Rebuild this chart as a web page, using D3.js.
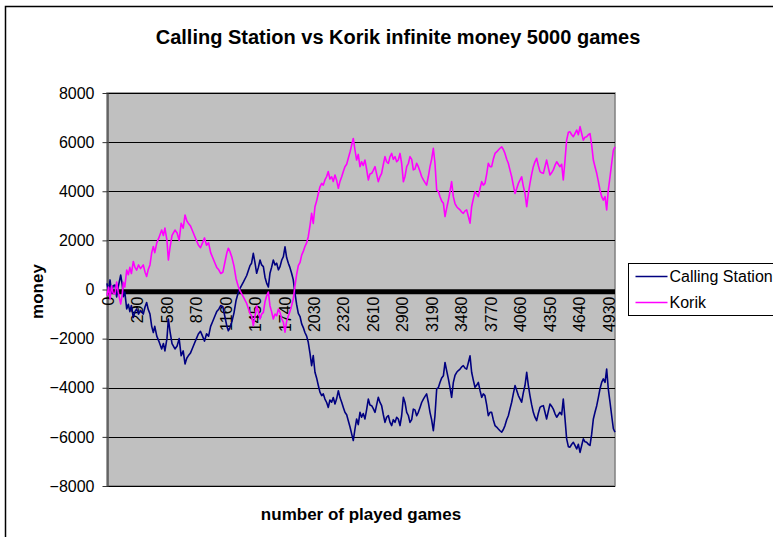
<!DOCTYPE html>
<html lang="en">
<head>
<meta charset="UTF-8">
<title>Calling Station vs Korik</title>
<script src="https://cdn.jsdelivr.net/npm/d3@7"></script>
<style>
  body { margin: 0; background: #fff; }
  text { font-family: "Liberation Sans", Arial, sans-serif; }
</style>
</head>
<body>
<script>
// game number of each reading
var games = [
  0,15,30,45,60,79,95,110,135,150,
  161,175,194,210,225,240,259,275,292,310,
  330,357,375,390,405,423,440,456,470,490,
  510,538,555,570,590,604,620,640,669,690,
  710,730,750,768,785,800,820,840,860,880,
  899,920,940,960,980,1000,1020,1040,1063,1080,
  1100,1120,1140,1160,1180,1194,1210,1230,1250,1270,
  1290,1309,1342,1375,1407,1423,1440,1456,1473,1490,
  1506,1522,1539,1555,1572,1588,1604,1620,1637,1654,
  1670,1687,1703,1720,1736,1752,1768,1785,1800,1817,
  1833,1850,1866,1883,1900,1916,1932,1948,1965,1981,
  1998,2014,2030,2047,2063,2080,2096,2113,2129,2145,
  2162,2178,2194,2211,2227,2244,2260,2277,2293,2310,
  2326,2342,2359,2375,2392,2408,2424,2440,2457,2473,
  2490,2506,2522,2539,2555,2572,2588,2605,2621,2638,
  2654,2670,2687,2703,2720,2736,2752,2769,2785,2802,
  2818,2835,2851,2867,2884,2900,2917,2933,2950,2966,
  2982,2999,3015,3031,3048,3064,3081,3097,3114,3130,
  3146,3163,3179,3195,3212,3228,3245,3261,3278,3294,
  3311,3327,3343,3360,3376,3392,3409,3425,3442,3458,
  3475,3491,3507,3524,3540,3557,3573,3589,3606,3622,
  3638,3655,3671,3688,3704,3720,3737,3753,3770,3786,
  3802,3819,3835,3852,3868,3885,3901,3917,3934,3950,
  3967,3983,3999,4016,4032,4049,4065,4081,4098,4114,
  4131,4147,4163,4180,4196,4212,4229,4245,4262,4278,
  4295,4311,4327,4344,4360,4376,4393,4409,4426,4442,
  4458,4475,4491,4508,4524,4541,4557,4574,4590,4606,
  4623,4639,4656,4672,4688,4705,4721,4737,4754,4770,
  4787,4803,4820,4836,4852,4869,4885,4902,4918,4934,
  4951,4967,4984,5000
];

var callingStation = [
  250,-100,390,-150,150,180,-300,100,590,200,
  -290,-100,-790,-600,-900,-650,-1140,-900,-790,-1000,
  -850,-1000,-700,-530,-800,-1000,-1500,-1750,-1500,-1900,
  -2100,-2420,-2200,-2500,-2000,-1200,-1700,-2200,-2420,-2300,
  -2000,-2700,-2500,-3030,-2800,-2700,-2600,-2400,-2200,-2000,
  -1810,-1700,-1900,-2100,-1800,-1900,-1500,-1300,-1070,-900,
  -800,-650,-700,-1100,-1500,-1680,-1550,-1300,-950,-450,
  -150,50,300,570,970,1070,1470,1100,660,900,
  1200,1000,930,500,250,100,660,900,1200,1000,
  1070,800,930,1200,1340,1740,1300,1070,900,660,
  400,-150,-600,-970,-1100,-1400,-1550,-1750,-1900,-2150,
  -2600,-3100,-2690,-3370,-3600,-3910,-4180,-4320,-4250,-4460,
  -4600,-4800,-4500,-4590,-4400,-4660,-4450,-4120,-4400,-4590,
  -4800,-5000,-5100,-5340,-5600,-5880,-6150,-5700,-5270,-5500,
  -5000,-5200,-5050,-5270,-4900,-4460,-4700,-4730,-4850,-5000,
  -4700,-4390,-4600,-4730,-5100,-5410,-5200,-5130,-5400,-5540,
  -5300,-5410,-5200,-5270,-5540,-5140,-4390,-4600,-5000,-5130,
  -5410,-5300,-4870,-4900,-5140,-5000,-4800,-4600,-4460,-4350,
  -4250,-4600,-5000,-5300,-5750,-5140,-4050,-4000,-3780,-3600,
  -3510,-2970,-3300,-3640,-4000,-4390,-3780,-3500,-3370,-3300,
  -3240,-3150,-3100,-3200,-3240,-2970,-2700,-3370,-3700,-3980,
  -3900,-3780,-4100,-4390,-4250,-4320,-4700,-5140,-5000,-5000,
  -5300,-5540,-5600,-5680,-5750,-5810,-5700,-5540,-5300,-5140,
  -4850,-4590,-4250,-3910,-4100,-4320,-4450,-4590,-4200,-3910,
  -3370,-3900,-4320,-4700,-5000,-5200,-5340,-5050,-4800,-4750,
  -4730,-5000,-5270,-4950,-4660,-4750,-4870,-5050,-5200,-5100,
  -5000,-5100,-4460,-5270,-6080,-6400,-6420,-6300,-6220,-6350,
  -6490,-6300,-6630,-6350,-6080,-6200,-6220,-6300,-6350,-5900,
  -5270,-5000,-4730,-4400,-4050,-3780,-3640,-3780,-3240,-4050,
  -4590,-5130,-5670,-5810
];

var korik = [
  -250,100,-390,150,-150,-180,300,-100,-590,-200,
  290,100,790,600,900,650,1140,900,790,1000,
  850,1000,700,530,800,1000,1500,1750,1500,1900,
  2100,2420,2200,2500,2000,1200,1700,2200,2420,2300,
  2000,2700,2500,3030,2800,2700,2600,2400,2200,2000,
  1810,1700,1900,2100,1800,1900,1500,1300,1070,900,
  800,650,700,1100,1500,1680,1550,1300,950,450,
  150,-50,-300,-570,-970,-1070,-1470,-1100,-660,-900,
  -1200,-1000,-930,-500,-250,-100,-660,-900,-1200,-1000,
  -1070,-800,-930,-1200,-1340,-1740,-1300,-1070,-900,-660,
  -400,150,600,970,1100,1400,1550,1750,1900,2150,
  2600,3100,2690,3370,3600,3910,4180,4320,4250,4460,
  4600,4800,4500,4590,4400,4660,4450,4120,4400,4590,
  4800,5000,5100,5340,5600,5880,6150,5700,5270,5500,
  5000,5200,5050,5270,4900,4460,4700,4730,4850,5000,
  4700,4390,4600,4730,5100,5410,5200,5130,5400,5540,
  5300,5410,5200,5270,5540,5140,4390,4600,5000,5130,
  5410,5300,4870,4900,5140,5000,4800,4600,4460,4350,
  4250,4600,5000,5300,5750,5140,4050,4000,3780,3600,
  3510,2970,3300,3640,4000,4390,3780,3500,3370,3300,
  3240,3150,3100,3200,3240,2970,2700,3370,3700,3980,
  3900,3780,4100,4390,4250,4320,4700,5140,5000,5000,
  5300,5540,5600,5680,5750,5810,5700,5540,5300,5140,
  4850,4590,4250,3910,4100,4320,4450,4590,4200,3910,
  3370,3900,4320,4700,5000,5200,5340,5050,4800,4750,
  4730,5000,5270,4950,4660,4750,4870,5050,5200,5100,
  5000,5100,4460,5270,6080,6400,6420,6300,6220,6350,
  6490,6300,6630,6350,6080,6200,6220,6300,6350,5900,
  5270,5000,4730,4400,4050,3780,3640,3780,3240,4050,
  4590,5130,5670,5810
];

var xLabels = [0,290,580,870,1160,1450,1740,2030,2320,2610,2900,3190,3480,3770,4060,4350,4640,4930];
var yTicks = [-8000,-6000,-4000,-2000,0,2000,4000,6000,8000];

var series = [
  {name: "Calling Station", color: "#000080", values: callingStation},
  {name: "Korik", color: "#ff00ff", values: korik}
];

var width = 773, height = 537;
var plotLeft = 107, plotRight = 615, plotTop = 93, plotBottom = 486;

var svg = d3.select("body").append("svg")
    .attr("width", width)
    .attr("height", height);

// chart area frame (runs off the picture on the right and bottom)
svg.append("rect")
    .attr("x", 5.5).attr("y", 6.5)
    .attr("width", 800).attr("height", 600)
    .attr("fill", "#fff")
    .attr("stroke", "#000")
    .attr("stroke-width", 1.5);

var x = d3.scaleLinear().domain([0, 5000]).range([plotLeft, plotRight]);
var y = d3.scaleLinear().domain([-8000, 8000]).range([plotBottom, plotTop]);

// plot area
svg.append("rect")
    .attr("x", plotLeft).attr("y", plotTop)
    .attr("width", plotRight - plotLeft).attr("height", plotBottom - plotTop)
    .attr("fill", "#c0c0c0")
    .attr("stroke", "#808080")
    .attr("stroke-width", 1.5);

// gridlines
svg.append("g").selectAll("line")
    .data(yTicks.filter(function (d) { return d !== 0; }))
    .enter().append("line")
    .attr("x1", plotLeft).attr("x2", plotRight)
    .attr("y1", function (d) { return Math.round(y(d)) + 0.5; })
    .attr("y2", function (d) { return Math.round(y(d)) + 0.5; })
    .attr("stroke", "#000")
    .attr("stroke-width", 1);

// y axis
var yAxis = svg.append("g")
    .attr("transform", "translate(" + (plotLeft + 0.5) + ",0)")
    .call(d3.axisLeft(y).tickValues(yTicks).tickSize(5).tickSizeOuter(0).tickPadding(8)
        .tickFormat(d3.format("d")));
yAxis.select(".domain").attr("stroke", "#555").attr("stroke-width", 1.5);
yAxis.selectAll(".tick line").attr("stroke", "#333");
yAxis.selectAll("text")
    .attr("font-size", "16px")
    .attr("fill", "#000")
    .style("font-family", "'Liberation Sans', Arial, sans-serif");

// heavy category axis along zero
svg.append("line")
    .attr("x1", plotLeft).attr("x2", plotRight)
    .attr("y1", y(0) + 2.3).attr("y2", y(0) + 2.3)
    .attr("stroke", "#000")
    .attr("stroke-width", 5);

// category labels, turned upright
svg.append("g").selectAll("text")
    .data(xLabels)
    .enter().append("text")
    .attr("transform", function (d) {
        return "translate(" + (x(d) + 1) + "," + (y(0) + 7) + ") rotate(-90)";
    })
    .attr("text-anchor", "end")
    .attr("dy", "0.36em")
    .attr("font-size", "16px")
    .attr("fill", "#000")
    .text(function (d) { return d; });

// series lines
var line = d3.line()
    .x(function (d, i) { return x(games[i]); })
    .y(function (d) { return y(d); });

svg.append("g").selectAll("path")
    .data(series)
    .enter().append("path")
    .attr("d", function (s) { return line(s.values); })
    .attr("fill", "none")
    .attr("stroke", function (s) { return s.color; })
    .attr("stroke-width", 1.6)
    .attr("stroke-linejoin", "round");

// titles
svg.append("text")
    .attr("x", 398).attr("y", 44)
    .attr("text-anchor", "middle")
    .attr("font-size", "20px")
    .attr("font-weight", "bold")
    .text("Calling Station vs Korik infinite money 5000 games");

svg.append("text")
    .attr("x", 361).attr("y", 520)
    .attr("text-anchor", "middle")
    .attr("font-size", "17px")
    .attr("font-weight", "bold")
    .text("number of played games");

svg.append("text")
    .attr("transform", "translate(43," + (y(0) + 2) + ") rotate(-90)")
    .attr("text-anchor", "middle")
    .attr("font-size", "17px")
    .attr("font-weight", "bold")
    .text("money");

// legend
var legend = svg.append("g").attr("transform", "translate(628.5,263.5)");
legend.append("rect")
    .attr("width", 170).attr("height", 52)
    .attr("fill", "#fff")
    .attr("stroke", "#000")
    .attr("stroke-width", 1);
var item = legend.selectAll(".item")
    .data(series)
    .enter().append("g")
    .attr("transform", function (d, i) { return "translate(0," + (13 + i * 26) + ")"; });
item.append("line")
    .attr("x1", 7).attr("x2", 39)
    .attr("stroke", function (d) { return d.color; })
    .attr("stroke-width", 1.5);
item.append("text")
    .attr("x", 41).attr("dy", "0.36em")
    .attr("font-size", "16px")
    .text(function (d) { return d.name; });
</script>
</body>
</html>
